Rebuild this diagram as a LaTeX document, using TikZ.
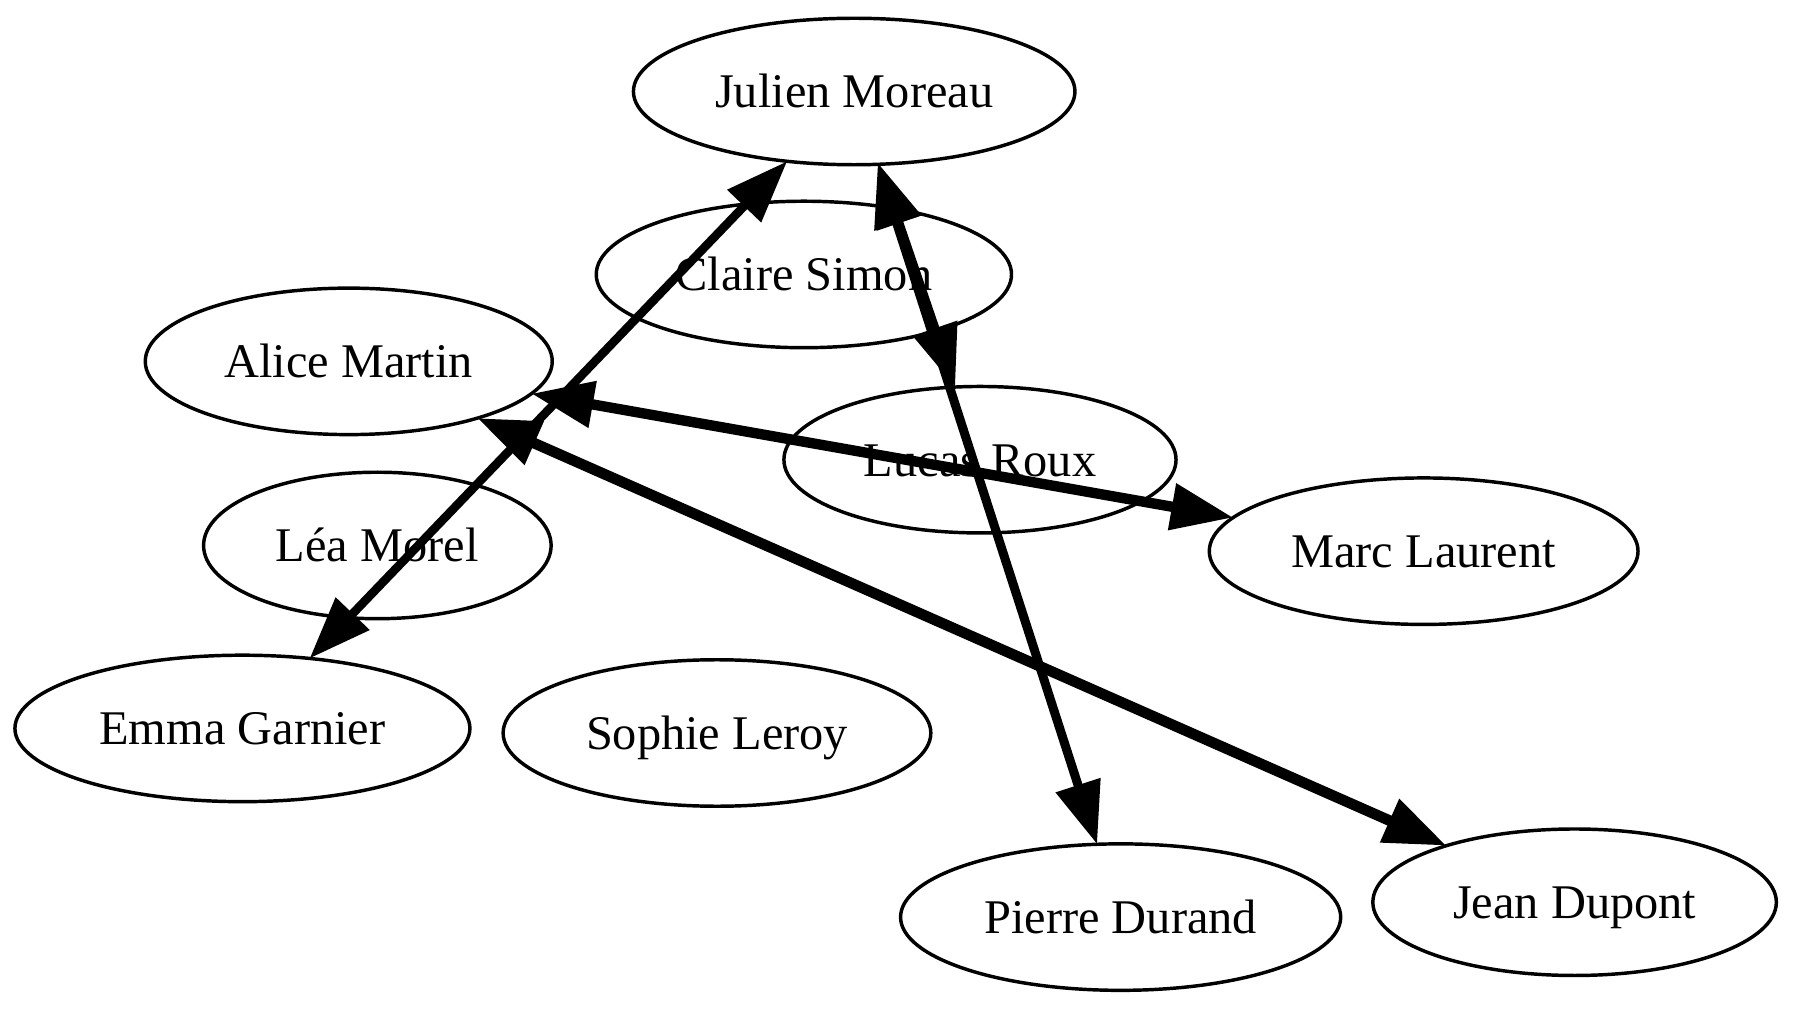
\documentclass[tikz,border=0pt]{standalone}
\usepackage{fontspec}
\setmainfont{Liberation Serif}
\usetikzlibrary{arrows.meta, shapes.geometric}

\begin{document}
\begin{tikzpicture}[x=0.331pt, y=-0.331pt,
  person/.style={draw, ellipse, line width=1pt, inner sep=0pt, outer sep=0pt,
    minimum height=42.4pt, text height=9.5pt, text depth=0pt,
    font=\fontsize{14}{16}\selectfont},
  link/.style={{Triangle[length=18pt,width=13pt]}-{Triangle[length=18pt,width=13pt]}}]
\useasboundingbox (0,0) rectangle (1568,882);
% Draw people
\node[person, minimum width=127.8pt] (julien) at (747,80) {Julien Moreau};
\node[person, minimum width=120.2pt] (claire) at (703,240) {Claire Simon};
\node[person, minimum width=117.8pt] (alice) at (305,316) {Alice Martin};
\node[person, minimum width=113.5pt] (lucas) at (857,402) {Lucas Roux};
\node[person, minimum width=100.6pt] (lea) at (330,477) {Léa Morel};
\node[person, minimum width=124.1pt] (marc) at (1245,482) {Marc Laurent};
\node[person, minimum width=131.7pt] (emma) at (212,637) {Emma Garnier};
\node[person, minimum width=123.8pt] (sophie) at (627,641) {Sophie Leroy};
\node[person, minimum width=127.4pt] (pierre) at (980,802) {Pierre Durand};
\node[person, minimum width=116.8pt] (jean) at (1377,789) {Jean Dupont};
% Draw links
\draw[link, line width=2.5pt] (emma) -- (julien);
\draw[link, line width=3pt] (alice) -- (marc);
\draw[link, line width=3.1pt] (alice) -- (jean);
\draw[link, line width=2.5pt] (julien) -- (lucas);
\draw[link, line width=2.6pt] (julien) -- (pierre);
\end{tikzpicture}
\end{document}
